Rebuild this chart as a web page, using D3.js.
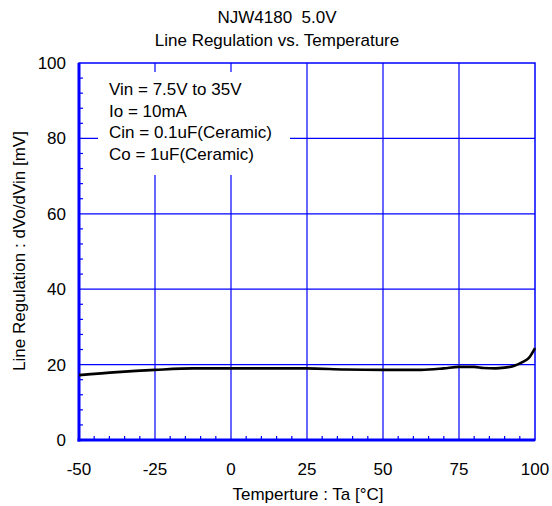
<!DOCTYPE html>
<html><head><meta charset="utf-8">
<script src="https://cdn.jsdelivr.net/npm/d3@7"></script>
<style>body{margin:0;background:#fff}svg{display:block}text{font-family:"Liberation Sans",Arial,sans-serif;fill:#000;white-space:pre}</style>
</head><body>
<script>
const temps = [-50,-37.5,-25,-12.5,0,12.5,25,37.5,50,62.5,70,75,80,83,87,90,93,96,98,100];
const lineReg = [17.2,18.0,18.6,19.0,19.0,19.0,19.0,18.7,18.6,18.6,19.0,19.4,19.4,19.1,19.0,19.2,19.6,20.7,21.8,24.4];
const xTicks = [-50,-25,0,25,50,75,100];
const yTicks = [0,20,40,60,80,100];
const titleLines = ["NJW4180  5.0V","Line Regulation vs. Temperature"];
const notes = ["Vin = 7.5V to 35V","Io = 10mA","Cin = 0.1uF(Ceramic)","Co = 1uF(Ceramic)"];

const W=552,H=506, L=79,T=63,R=535,B=440;
const blue="#0000ff";
const fs=17;
const svg=d3.select("body").append("svg").attr("width",W).attr("height",H);
const x=d3.scaleLinear().domain([-50,100]).range([L,R]);
const y=d3.scaleLinear().domain([0,100]).range([B,T]);

// gridlines
svg.append("g").selectAll("line").data(xTicks.slice(1,-1)).join("line")
  .attr("x1",d=>x(d)).attr("x2",d=>x(d)).attr("y1",T).attr("y2",B)
  .attr("stroke",blue).attr("stroke-width",1.2);
svg.append("g").selectAll("line").data(yTicks.slice(1,-1)).join("line")
  .attr("y1",d=>y(d)).attr("y2",d=>y(d)).attr("x1",L).attr("x2",R)
  .attr("stroke",blue).attr("stroke-width",1.2);

// minor ticks
const xMinor=d3.range(-50,100.01,5).filter(v=>v%25!==0);
const yMinor=d3.range(0,100.01,4).filter(v=>v%20!==0);
svg.append("g").selectAll("line").data(xMinor).join("line")
  .attr("x1",d=>x(d)).attr("x2",d=>x(d)).attr("y1",B).attr("y2",B-4)
  .attr("stroke",blue).attr("stroke-width",1.2);
svg.append("g").selectAll("line").data(yMinor).join("line")
  .attr("y1",d=>y(d)).attr("y2",d=>y(d)).attr("x1",L).attr("x2",L+4)
  .attr("stroke",blue).attr("stroke-width",1.2);

// frame
svg.append("rect").attr("x",L).attr("y",T).attr("width",R-L).attr("height",B-T)
  .attr("fill","none").attr("stroke",blue).attr("stroke-width",1.5);
svg.append("line").attr("x1",L).attr("x2",L).attr("y1",T).attr("y2",B+1.5).attr("stroke",blue).attr("stroke-width",3);
svg.append("line").attr("x1",L-1.5).attr("x2",R).attr("y1",B).attr("y2",B).attr("stroke",blue).attr("stroke-width",3);

// annotation box
svg.append("rect").attr("x",98).attr("y",72).attr("width",192).attr("height",103).attr("fill","#fff");
svg.append("g").selectAll("text").data(notes).join("text")
  .attr("x",109).attr("y",(d,i)=>95+i*21.7).attr("font-size",fs).text(d=>d);

// curve
svg.append("path").datum(temps.map((t,i)=>[t,lineReg[i]]))
  .attr("fill","none").attr("stroke","#000").attr("stroke-width",2.6)
  .attr("d",d3.line().x(d=>x(d[0])).y(d=>y(d[1])).curve(d3.curveMonotoneX));

// tick labels
svg.append("g").selectAll("text").data(xTicks).join("text")
  .attr("x",d=>x(d)).attr("y",475).attr("text-anchor","middle").attr("font-size",fs).text(d=>d);
svg.append("g").selectAll("text").data(yTicks).join("text")
  .attr("x",66).attr("y",d=>y(d)+6).attr("text-anchor","end").attr("font-size",fs).text(d=>d);

// titles
svg.append("g").selectAll("text").data(titleLines).join("text")
  .attr("x",277).attr("y",(d,i)=>23+i*23).attr("text-anchor","middle").attr("font-size",fs).text(d=>d);
svg.append("text").attr("x",308).attr("y",500).attr("text-anchor","middle").attr("font-size",fs).text("Temperture : Ta [°C]");
svg.append("text").attr("transform","translate(25,251) rotate(-90)").attr("text-anchor","middle").attr("font-size",fs).text("Line Regulation : dVo/dVin [mV]");
</script>
</body></html>
